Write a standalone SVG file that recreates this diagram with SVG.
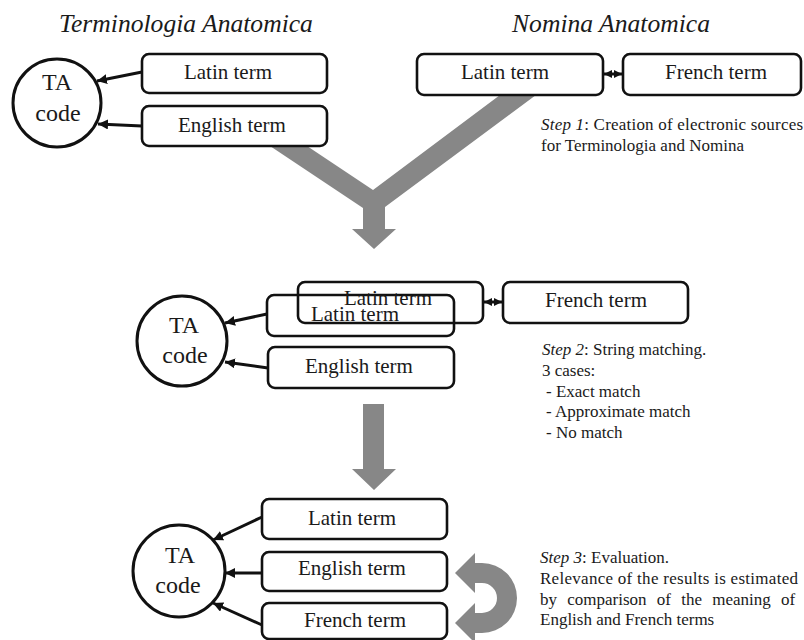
<svg xmlns="http://www.w3.org/2000/svg" width="804" height="640" viewBox="0 0 804 640" font-family="'Liberation Serif', 'Times New Roman', serif">
<defs>
<style>
.box{fill:none;stroke:#111;stroke-width:2.6}
.circ{fill:none;stroke:#111;stroke-width:3}
.lbl{font-size:21px;fill:#1a1a1a;text-anchor:middle}
.ta{font-size:24px;fill:#1a1a1a;text-anchor:middle}
.title{font-size:25.6px;font-style:italic;fill:#1a1a1a;text-anchor:middle}
.note{font-size:17px;fill:#1a1a1a}
.it{font-style:italic}
.conn{stroke:#111;stroke-width:3;fill:none}
.gray{fill:#878787}
</style>
<marker id="ah" viewBox="0 0 10 10" refX="10" refY="5" markerWidth="10" markerHeight="10" markerUnits="userSpaceOnUse" orient="auto-start-reverse">
<path d="M0,0 L10,5 L0,10 z" fill="#111"/>
</marker>
<marker id="ahs" viewBox="0 0 10 10" refX="10" refY="5" markerWidth="8" markerHeight="9" markerUnits="userSpaceOnUse" orient="auto-start-reverse">
<path d="M0,0 L10,5 L0,10 z" fill="#111"/>
</marker>
</defs>
<rect width="804" height="640" fill="#fff"/>

<!-- titles -->
<text class="title" x="186" y="32" font-family="'Liberation Serif', serif">Terminologia Anatomica</text>
<text class="title" x="611" y="32" font-family="'Liberation Serif', serif">Nomina Anatomica</text>

<!-- gray flow arrows -->
<g id="flow">
<path class="gray" d="M270,146 L307,146 L373,190 L500,95 L536,95 L385,207 L385,229 L396,229 L374,249 L352,229 L363,229 L363,208 Z"/>
<path class="gray" d="M363,404 L384,404 L384,469 L396,469 L374,490 L352,469 L363,469 Z"/>
<path class="gray" d="M455,573 L475,553 L475,563 L482,563 A35,35 0 0 1 482,633 L475,633 L475,643 L455,623 L475,603 L475,613 L482,613 A15,15 0 0 0 482,583 L475,583 L475,593 Z"/>
</g>

<g font-family="'Liberation Serif', serif">
<!-- step 1 nodes -->
<g id="ta1">
<circle class="circ" cx="57" cy="103" r="44"/>
<text class="ta" x="57" y="90">TA</text>
<text class="ta" x="58" y="121">code</text>
</g>
<g id="ta1-latin">
<rect class="box" x="142" y="54" width="185" height="39" rx="7"/>
<text class="lbl" x="228" y="79">Latin term</text>
</g>
<g id="ta1-english">
<rect class="box" x="142" y="106" width="185" height="40" rx="7"/>
<text class="lbl" x="232" y="132">English term</text>
</g>
<g id="na1-latin">
<rect class="box" x="417" y="54" width="186" height="41" rx="7"/>
<text class="lbl" x="505" y="79">Latin term</text>
</g>
<g id="na1-french">
<rect class="box" x="623" y="54" width="178" height="41" rx="7"/>
<text class="lbl" x="716" y="79">French term</text>
</g>
<g id="step1">
<text class="note" x="541" y="130" textLength="262"><tspan class="it">Step 1</tspan>: Creation of electronic sources</text>
<text class="note" x="541" y="151">for Terminologia and Nomina</text>
</g>

<!-- step 2 nodes -->
<g id="ta2">
<circle class="circ" cx="182" cy="341" r="45"/>
<text class="ta" x="184" y="333">TA</text>
<text class="ta" x="185" y="363">code</text>
</g>
<g id="ta2-latin">
<rect class="box" x="267" y="295" width="187" height="41" rx="7"/>
<text class="lbl" x="355" y="321">Latin term</text>
</g>
<g id="na2-latin">
<rect class="box" x="298" y="282" width="185" height="41" rx="7"/>
<text class="lbl" x="388" y="305">Latin term</text>
</g>
<g id="ta2-english">
<rect class="box" x="268" y="347" width="186" height="41" rx="7"/>
<text class="lbl" x="359" y="373">English term</text>
</g>
<g id="na2-french">
<rect class="box" x="503" y="282" width="185" height="41" rx="7"/>
<text class="lbl" x="596" y="307">French term</text>
</g>
<g id="step2">
<text class="note" x="542" y="355"><tspan class="it">Step 2</tspan>: String matching.</text>
<text class="note" x="542" y="376">3 cases:</text>
<text class="note" x="546" y="397">- Exact match</text>
<text class="note" x="546" y="417">- Approximate match</text>
<text class="note" x="546" y="438">- No match</text>
</g>

<!-- step 3 nodes -->
<g id="ta3">
<circle class="circ" cx="179" cy="571" r="46"/>
<text class="ta" x="180" y="563">TA</text>
<text class="ta" x="178" y="593">code</text>
</g>
<g id="ta3-latin">
<rect class="box" x="262" y="499" width="185" height="40" rx="7"/>
<text class="lbl" x="352" y="525">Latin term</text>
</g>
<g id="ta3-english">
<rect class="box" x="262" y="552" width="185" height="39" rx="7"/>
<text class="lbl" x="352" y="575">English term</text>
</g>
<g id="ta3-french">
<rect class="box" x="262" y="603" width="185" height="36" rx="7"/>
<text class="lbl" x="355" y="627">French term</text>
</g>
<g id="step3">
<text class="note" x="540" y="563"><tspan class="it">Step 3</tspan>: Evaluation.</text>
<text class="note" x="540" y="584" textLength="258">Relevance of the results is estimated</text>
<text class="note" x="540" y="604.5" word-spacing="6">by comparison of the meaning of</text>
<text class="note" x="540" y="625">English and French terms</text>
</g>
</g>

<!-- connectors -->
<g id="connectors">
<line class="conn" x1="142" y1="72" x2="97" y2="81" marker-end="url(#ah)"/>
<line class="conn" x1="142" y1="126" x2="98" y2="124" marker-end="url(#ah)"/>
<line class="conn" x1="604" y1="74" x2="622" y2="74" marker-start="url(#ahs)" marker-end="url(#ahs)"/>
<line class="conn" x1="267" y1="314" x2="225" y2="323" marker-end="url(#ah)"/>
<line class="conn" x1="268" y1="368" x2="225" y2="362" marker-end="url(#ah)"/>
<line class="conn" x1="484" y1="302" x2="502" y2="302" marker-start="url(#ahs)" marker-end="url(#ahs)"/>
<line class="conn" x1="262" y1="517" x2="213" y2="540" marker-end="url(#ah)"/>
<line class="conn" x1="262" y1="573" x2="225" y2="573" marker-end="url(#ah)"/>
<line class="conn" x1="262" y1="625" x2="213" y2="603" marker-end="url(#ah)"/>
</g>
</svg>
